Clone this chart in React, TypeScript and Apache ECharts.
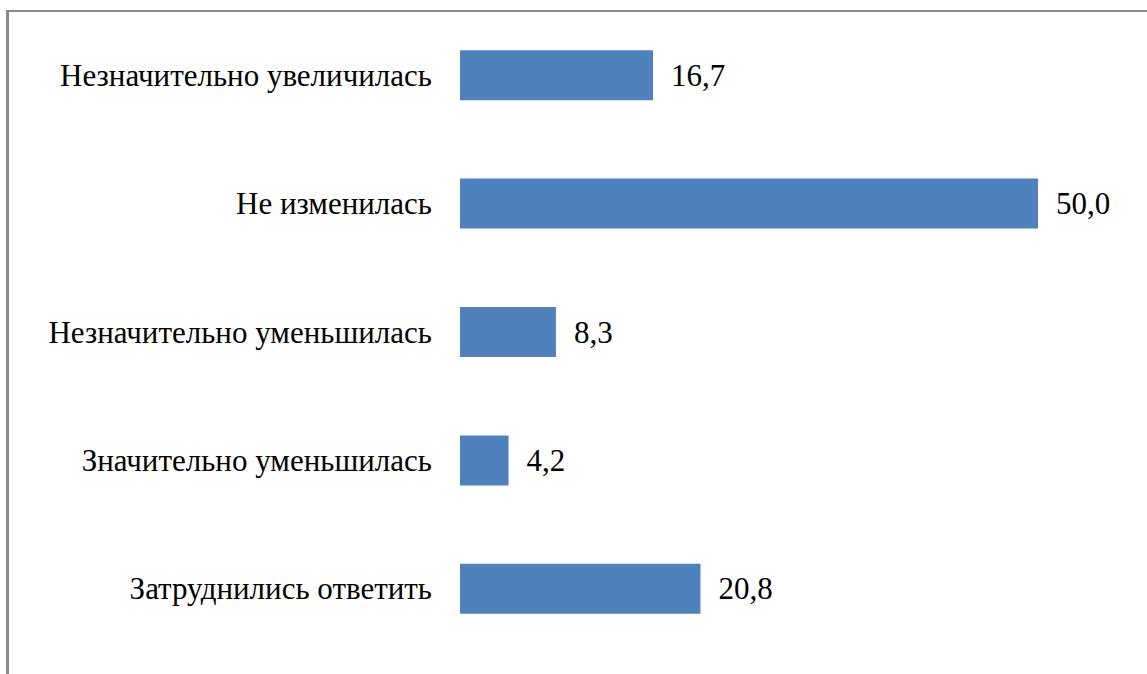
import React, { useEffect, useRef } from "react";
import * as echarts from "echarts";

const categories = [
  "Незначительно увеличилась",
  "Не изменилась",
  "Незначительно уменьшилась",
  "Значительно уменьшилась",
  "Затруднились ответить",
];
const values = [16.7, 50.0, 8.3, 4.2, 20.8];

export default function App() {
  const ref = useRef<HTMLDivElement>(null);
  useEffect(() => {
    if (!ref.current) return;
    const chart = echarts.init(ref.current, null, { renderer: "svg" });
    const font = "Liberation Serif, Times New Roman, DejaVu Serif, serif";
    chart.setOption({
      animation: false,
      backgroundColor: "#ffffff",
      grid: { left: 460, right: 109, top: 11, bottom: 21, containLabel: false },
      xAxis: { type: "value", min: 0, max: 50, show: false },
      yAxis: {
        type: "category",
        data: categories,
        inverse: true,
        axisLine: { show: false },
        axisTick: { show: false },
        axisLabel: {
          margin: 28,
          fontFamily: font,
          fontSize: 31,
          color: "#000000",
        },
      },
      series: [
        {
          type: "bar",
          data: values,
          barWidth: 50,
          itemStyle: { color: "#4f81bd" },
          label: {
            show: true,
            position: "right",
            distance: 18,
            fontFamily: font,
            fontSize: 31,
            color: "#000000",
            formatter: (p: any) => p.value.toFixed(1).replace(".", ","),
          },
        },
      ],
      graphic: [
        {
          type: "rect",
          shape: { x: 6, y: 10, width: 3, height: 664 },
          style: { fill: "#8a8a8a" },
        },
        {
          type: "rect",
          shape: { x: 6, y: 10, width: 1141, height: 2 },
          style: { fill: "#8a8a8a" },
        },
      ],
    });
    return () => chart.dispose();
  }, []);
  return (
    <div
      ref={ref}
      style={{ position: "fixed", left: 0, top: 0, width: 1147, height: 674 }}
    />
  );
}
